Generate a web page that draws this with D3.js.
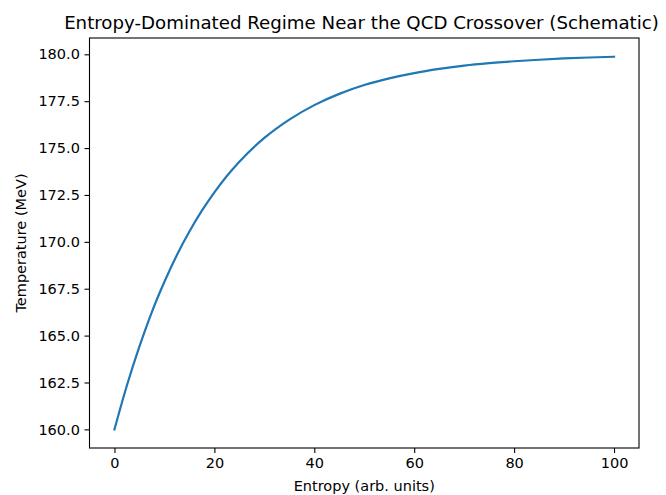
<!DOCTYPE html>
<html>
<head>
<script src="https://d3js.org/d3.v7.min.js"></script>
<style>
  body { margin: 0; background: #fff; }
  text { font-family: "DejaVu Sans", sans-serif; fill: #000; }
</style>
</head>
<body>
<script>
// values
var entropy = [0, 2.5, 5, 7.5, 10, 12.5, 15, 17.5, 20, 22.5, 25, 30, 35, 40, 45, 50, 55, 60, 65, 70, 75, 80, 85, 90, 95, 100];
var temperature = [160.0, 162.35, 164.42, 166.27, 167.87, 169.3, 170.55, 171.66, 172.64, 173.51, 174.27, 175.54, 176.52, 177.29, 177.89, 178.36, 178.72, 179.0, 179.22, 179.4, 179.53, 179.63, 179.71, 179.78, 179.83, 179.87];
var xTicks = [0, 20, 40, 60, 80, 100];
var yTicks = [160, 162.5, 165, 167.5, 170, 172.5, 175, 177.5, 180];

var width = 666, height = 495;
var plotL = 89.5, plotR = 639, plotT = 38, plotB = 448;

var svg = d3.select("body").append("svg")
  .attr("width", width)
  .attr("height", height);

var x = d3.scaleLinear().domain([-5, 105]).range([plotL, plotR]);
var y = d3.scaleLinear().domain([159.006, 180.87]).range([plotB, plotT]);

var pts = entropy.map(function (s, i) { return [s, temperature[i]]; });

var line = d3.line()
  .x(function (d) { return x(d[0]); })
  .y(function (d) { return y(d[1]); })
  .curve(d3.curveMonotoneX);

svg.append("path")
  .datum(pts)
  .attr("d", line)
  .attr("fill", "none")
  .attr("stroke", "#1f77b4")
  .attr("stroke-width", 2.2)
  .attr("stroke-linecap", "square");

var xAxis = svg.append("g")
  .attr("transform", "translate(0," + plotB + ")")
  .call(d3.axisBottom(x).tickValues(xTicks).tickSize(5).tickPadding(4.6).tickFormat(d3.format("d")));

var yAxis = svg.append("g")
  .attr("transform", "translate(" + plotL + ",0)")
  .call(d3.axisLeft(y).tickValues(yTicks).tickSize(5).tickPadding(4.6).tickFormat(d3.format(".1f")));

[xAxis, yAxis].forEach(function (a) {
  a.select(".domain").remove();
  a.selectAll("line").attr("stroke", "#000").attr("stroke-width", 1.1);
  a.selectAll("text").style("font-family", "DejaVu Sans").style("font-size", "14.5px");
});

svg.append("rect")
  .attr("x", plotL).attr("y", plotT)
  .attr("width", plotR - plotL).attr("height", plotB - plotT)
  .attr("fill", "none").attr("stroke", "#000").attr("stroke-width", 1.1);

svg.append("text")
  .attr("x", 361.5).attr("y", 29)
  .attr("text-anchor", "middle")
  .style("font-size", "18.2px")
  .text("Entropy-Dominated Regime Near the QCD Crossover (Schematic)");

svg.append("text")
  .attr("x", (plotL + plotR) / 2).attr("y", 491)
  .attr("text-anchor", "middle")
  .style("font-size", "14.5px")
  .text("Entropy (arb. units)");

svg.append("text")
  .attr("transform", "translate(26," + (plotT + plotB) / 2 + ") rotate(-90)")
  .attr("text-anchor", "middle")
  .style("font-size", "14.5px")
  .text("Temperature (MeV)");
</script>
</body>
</html>
